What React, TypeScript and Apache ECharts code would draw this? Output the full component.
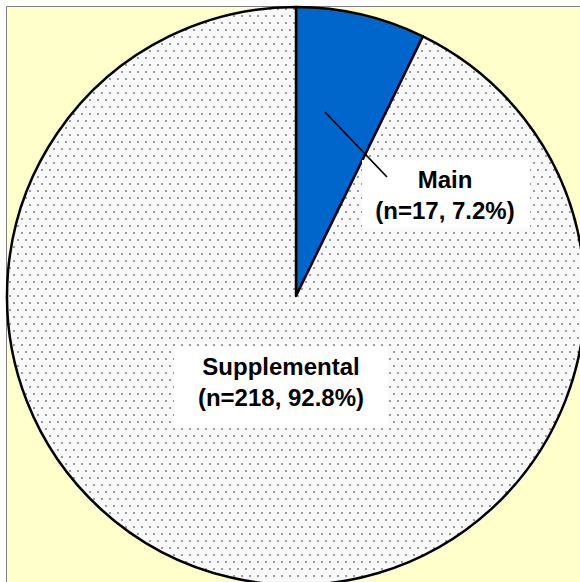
import React, { useEffect, useRef } from "react";
import * as echarts from "echarts";

const categories = ["Main", "Supplemental"];
const counts = [17, 218];
const sliceColors = ["#0066CC", "pattern"];

function makePattern(): HTMLCanvasElement {
  const c = document.createElement("canvas");
  c.width = 8;
  c.height = 14;
  const ctx = c.getContext("2d")!;
  ctx.fillStyle = "#F9F9F9";
  ctx.fillRect(0, 0, 8, 14);
  ctx.fillStyle = "#9C9C9C";
  ctx.fillRect(1, 1, 2, 2);
  ctx.fillRect(5, 8, 2, 2);
  return c;
}

export default function App() {
  const ref = useRef<HTMLDivElement>(null);
  useEffect(() => {
    const chart = echarts.init(ref.current!, null, { renderer: "svg" });
    const total = counts.reduce((a, b) => a + b, 0);
    const patCanvas = makePattern();
    const pattern = { image: patCanvas, repeat: "repeat", imageWidth: 8, imageHeight: 14 };
    const labelText = (i: number) =>
      `${categories[i]}\n(n=${counts[i]}, ${((counts[i] / total) * 100).toFixed(1)}%)`;
    const font = {
      fontSize: 24,
      fontWeight: "bold",
      fontFamily: '"Liberation Sans", Arial, sans-serif',
      lineHeight: 31,
      fill: "#000",
      align: "center",
      verticalAlign: "middle",
    };
    chart.setOption({
      animation: false,
      backgroundColor: "#FFFFFF",
      graphic: [
        {
          type: "rect",
          z: 0,
          silent: true,
          shape: { x: 6.5, y: 6.5, width: 600, height: 600 },
          style: { fill: "#FFFFCC", stroke: "#808080", lineWidth: 1 },
        },
        {
          type: "rect",
          z: 10,
          silent: true,
          shape: { x: 362, y: 160, width: 168, height: 68 },
          style: { fill: "#FFFFFF" },
        },
        {
          type: "line",
          z: 11,
          silent: true,
          shape: { x1: 325, y1: 112, x2: 387, y2: 177 },
          style: { stroke: "#000000", lineWidth: 1.8 },
        },
        {
          type: "text",
          z: 12,
          silent: true,
          x: 445,
          y: 195,
          style: { ...font, text: labelText(0) },
        },
        {
          type: "rect",
          z: 10,
          silent: true,
          shape: { x: 174, y: 347, width: 214, height: 80 },
          style: { fill: "#FFFFFF" },
        },
        {
          type: "text",
          z: 12,
          silent: true,
          x: 281,
          y: 382,
          style: { ...font, text: labelText(1) },
        },
      ],
      series: [
        {
          type: "pie",
          center: [296, 296],
          radius: 289,
          startAngle: 90,
          clockwise: true,
          silent: true,
          z: 2,
          label: { show: false },
          labelLine: { show: false },
          emphasis: { disabled: true },
          itemStyle: { borderColor: "#000000", borderWidth: 2.5 },
          data: categories.map((name, i) => ({
            name,
            value: counts[i],
            itemStyle: { color: sliceColors[i] === "pattern" ? pattern : sliceColors[i] },
          })),
        },
      ],
    });
    return () => chart.dispose();
  }, []);
  return (
    <div
      ref={ref}
      style={{ position: "absolute", left: 0, top: 0, width: 580, height: 582 }}
    />
  );
}
